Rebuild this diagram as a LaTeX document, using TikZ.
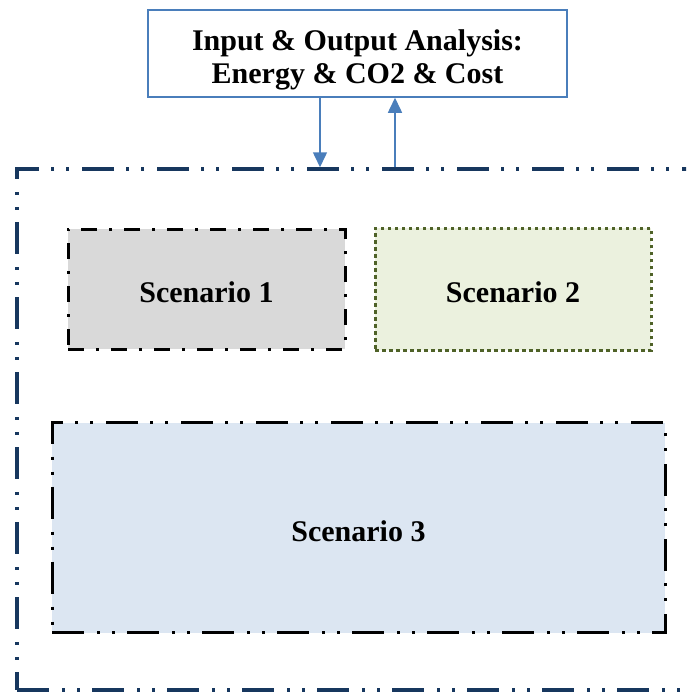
\documentclass[tikz,border=0pt]{standalone}
\usepackage{fontspec}
\setmainfont{Liberation Serif}
\usetikzlibrary{arrows.meta}
\definecolor{navy}{HTML}{17375E}
\definecolor{steel}{HTML}{4A7EBB}
\definecolor{grayfill}{HTML}{D9D9D9}
\definecolor{greenfill}{HTML}{EBF1DE}
\definecolor{olive}{HTML}{4F6228}
\definecolor{bluefill}{HTML}{DCE6F2}
\tikzset{
  lbl/.style={font=\fontsize{30}{33}\selectfont\bfseries, align=center, inner sep=0pt},
  slbl/.style={lbl, text height=27pt, text depth=0pt},
  dashdotdot/.style={dash pattern=on 32pt off 13pt on 3pt off 12pt on 3pt off 12pt},
  dashdotone/.style={dash pattern=on 16pt off 12pt on 3pt off 12pt},
  arr/.style={draw=steel, line width=1.5pt, -{Triangle[width=14pt,length=15pt]}},
}
\begin{document}
\begin{tikzpicture}[x=1pt,y=-1pt]
\useasboundingbox (0,0) rectangle (686,693);
\clip (0,0) rectangle (686,693);
\node[lbl, draw=steel, line width=1.5pt, fill=white, minimum width=419pt, minimum height=87pt] (top) at (357.5,53.5)
  {\raisebox{-13pt}[0pt][0pt]{\begin{tabular}{@{}c@{}}Input \& Output Analysis:\\Energy \& CO2 \& Cost\end{tabular}}};
\node[draw=navy, line width=3.5pt, dashdotdot, minimum width=688pt, minimum height=521pt, inner sep=0pt] (outer) at (361,429.5) {};
\node[slbl, draw=black, line width=3pt, dashdotone, fill=grayfill, minimum width=277pt, minimum height=120pt] (s1) at (206.5,289) {Scenario 1};
\node[slbl, draw=olive, line width=3pt, dash pattern=on 3.5pt off 3.5pt, fill=greenfill, minimum width=276pt, minimum height=122pt] (s2) at (513,289) {Scenario 2};
\node[slbl, draw=black, line width=3pt, dashdotdot, fill=bluefill, minimum width=613pt, minimum height=210pt] (s3) at (358.5,527.5) {Scenario 3};
\draw[arr] (top.south -| 320,0) -- (outer.north -| 320,0);
\draw[arr] (outer.north -| 395,0) -- (top.south -| 395,0);
\end{tikzpicture}
\end{document}
